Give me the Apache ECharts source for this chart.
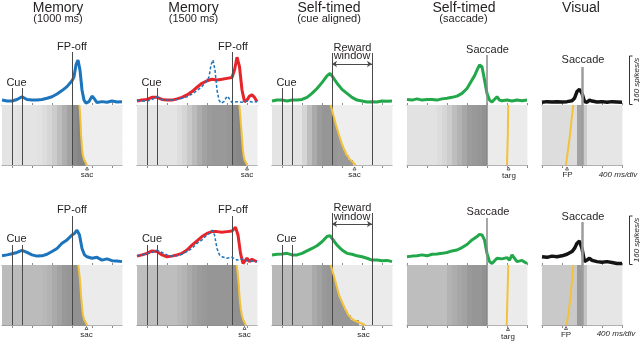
<!DOCTYPE html>
<html>
<head>
    <meta charset="utf-8"/>
    <title>Memory / self-timed / visual neurons</title>
    <script src="https://cdn.jsdelivr.net/npm/echarts@6.0.0/dist/echarts.min.js"></script>
    <style>
        html, body {margin: 0; padding: 0; background: #fff;}
        #chart {width: 640px; height: 342px;}
    </style>
</head>
<body>
<div id="chart"></div>
<script>
    // times in ms. memory + self-timed(cue) panels: 0 = cue onset; self-timed(saccade) + visual: 0 = saccade
    var cueTicks = [0, 400, 800, 1200, 1600, 2000];
    var selfSacTicks = [-1600, -1200, -800, -400, 0, 400, 800];
    var visualTicks = [-800, -400, 0, 400, 800];

    // ---- PSTHs (spikes/s) ----
    var mem1000TopT = [-200, -100, 0, 100, 200, 300, 400, 500, 600, 700, 800, 900, 1000, 1100, 1200, 1240, 1280, 1320, 1360, 1400, 1440, 1480, 1540, 1600, 1640, 1700, 1800, 1900, 2000, 2100, 2200];
    var mem1000TopRate = [16, 13, 13, 18, 27, 18, 16, 16, 18, 22, 27, 36, 47, 60, 79, 92, 131, 147, 114, 49, 16, 6, 11, 29, 22, 8, 11, 9, 13, 10, 11];
    var mem1000BotT = [-200, -100, 0, 100, 200, 300, 400, 500, 600, 700, 800, 900, 1000, 1100, 1200, 1250, 1300, 1320, 1350, 1400, 1450, 1500, 1600, 1700, 1800, 1900, 2000, 2100, 2200];
    var mem1000BotRate = [30, 33, 37, 41, 48, 41, 33, 29, 30, 35, 44, 54, 71, 82, 98, 103, 114, 117, 98, 54, 33, 27, 22, 25, 16, 20, 14, 13, 11];

    var mem1500TopT = [-200, -100, 0, 100, 200, 300, 400, 500, 600, 700, 800, 900, 1000, 1100, 1200, 1300, 1400, 1500, 1600, 1700, 1750, 1800, 1850, 1900, 1950, 2000, 2050, 2100, 2150, 2200];
    var mem1500TopRate = [13, 16, 18, 25, 25, 18, 16, 16, 20, 25, 33, 44, 58, 71, 79, 84, 82, 84, 87, 90, 114, 156, 125, 49, 11, 16, 29, 33, 25, 11];
    var mem1500BotT = [-200, -100, 0, 100, 200, 300, 400, 500, 600, 700, 800, 900, 1000, 1100, 1200, 1300, 1400, 1500, 1600, 1700, 1770, 1820, 1870, 1920, 2000, 2050, 2100, 2150, 2200];
    var mem1500BotRate = [29, 33, 38, 46, 44, 33, 27, 29, 33, 38, 49, 65, 79, 93, 103, 109, 109, 107, 109, 111, 123, 98, 38, 5, 22, 11, 19, 14, 11];

    var selfCueT = [-200, -100, 0, 100, 200, 300, 400, 500, 600, 700, 800, 900, 960, 1000, 1100, 1200, 1300, 1400, 1500, 1600, 1700, 1800, 1900, 2000, 2100, 2200];
    var selfCueTopRate = [13, 16, 16, 13, 16, 16, 18, 25, 38, 54, 73, 95, 103, 95, 71, 51, 38, 25, 16, 13, 10, 11, 10, 13, 12, 13];
    var selfCueBotRate = [33, 35, 36, 38, 33, 33, 38, 46, 54, 63, 76, 93, 96, 87, 65, 49, 38, 35, 30, 27, 22, 16, 16, 14, 15, 11];

    var selfSacTopT = [-1600, -1500, -1400, -1300, -1200, -1100, -1000, -900, -800, -700, -600, -500, -400, -300, -250, -200, -150, -100, -50, 0, 50, 100, 200, 250, 300, 400, 500, 600, 700, 800];
    var selfSacTopRate = [18, 16, 20, 16, 18, 18, 16, 20, 22, 25, 29, 38, 54, 82, 95, 114, 131, 125, 82, 38, 16, 10, 27, 16, 14, 16, 13, 16, 14, 16];
    var selfSacBotT = [-1600, -1500, -1400, -1300, -1200, -1100, -1000, -900, -800, -700, -600, -500, -400, -300, -200, -150, -100, -50, 0, 50, 100, 200, 300, 400, 450, 500, 550, 600, 700, 800];
    var selfSacBotRate = [27, 29, 30, 33, 30, 35, 36, 38, 41, 46, 49, 57, 67, 82, 93, 100, 98, 82, 38, 11, 5, 22, 20, 24, 16, 33, 22, 11, 15, 5];

    var visualT = [-800, -700, -600, -500, -400, -300, -200, -150, -100, -50, 0, 50, 100, 150, 200, 300, 400, 500, 600, 700, 800];
    var visualTopRate = [9, 11, 10, 11, 10, 11, 14, 22, 44, 51, 38, 11, 9, 16, 13, 10, 11, 9, 11, 10, 9];
    var visualBotRate = [27, 25, 29, 27, 30, 35, 44, 54, 71, 78, 54, 11, 16, 22, 15, 11, 9, 11, 8, 5, 5];

    // ---- yellow markers in the rasters (ms), top to bottom of the sorted trials ----
    var mem1000TopSac = [1346, 1356, 1362, 1368, 1374, 1378, 1382, 1390, 1396, 1404, 1416, 1444, 1500];
    var mem1000BotSac = [1326, 1338, 1349, 1360, 1367, 1374, 1380, 1389, 1398, 1406, 1420, 1445, 1506];
    var mem1500TopSac = [1846, 1856, 1864, 1872, 1880, 1888, 1894, 1902, 1910, 1918, 1930, 1950, 2006];
    var mem1500BotSac = [1794, 1806, 1816, 1826, 1836, 1842, 1848, 1856, 1866, 1880, 1896, 1924, 1980];
    var selfCueTopSac = [974, 1000, 1026, 1053, 1080, 1110, 1140, 1173, 1206, 1250, 1294, 1370, 1474];
    var selfCueBotSac = [974, 1003, 1032, 1060, 1087, 1113, 1140, 1183, 1226, 1276, 1326, 1426, 1660];
    var selfSacTopTarg = [426, 420, 416, 408, 400];
    var selfSacBotTarg = [426, 418, 410, 402, 394];
    var visualTopFP = [-174, -210, -240, -280, -320];
    var visualBotFP = [-174, -200, -226, -262, -306];

    // ---- raster spike density per 100 ms bin (0 = empty, 1 = solid) ----
    var mem1000TopDens = [.16, .16, .16, .17, .16, .16, .16, .17, .2, .24, .3, .38, .47, .55, .68, .72, .72, .72, .72, .72, .72, .72, .72, .72];
    var mem1500TopDens = [.16, .16, .16, .16, .16, .16, .16, .16, .2, .25, .32, .4, .48, .55, .58, .6, .6, .6, .62, .68, .7, .7, .7, .7];
    var selfCueTopDens = [.16, .16, .16, .16, .16, .16, .25, .38, .5, .58, .62, .62, .62, .6, .6, .6, .6, .6, .6, .6, .6, .6, .6, .6];
    var selfSacTopDens = [.17, .17, .17, .17, .17, .17, .2, .24, .3, .38, .45, .52, .58, .6, .62, .65, .12, .12, .12, .12, .12, .12, .12, .12];
    var visualTopDens = [.2, .2, .2, .2, .2, .2, .2, .55, .3, .15, .15, .15, .15, .15, .15, .15];
    var mem1000BotDens = [.4, .4, .4, .4, .4, .4, .4, .4, .42, .45, .5, .55, .6, .62, .65, .65, .65, .65, .65, .65, .65, .65, .65, .65];
    var mem1500BotDens = [.38, .38, .38, .38, .38, .38, .38, .38, .42, .45, .5, .55, .58, .6, .62, .62, .62, .62, .62, .65, .65, .65, .65, .65];
    var selfCueBotDens = [.42, .42, .42, .42, .42, .42, .42, .42, .5, .55, .6, .62, .62, .62, .62, .62, .62, .62, .62, .62, .62, .62, .62, .62];
    var selfSacBotDens = [.38, .38, .38, .38, .38, .38, .38, .38, .45, .48, .52, .55, .6, .62, .62, .65, .12, .12, .12, .12, .12, .12, .12, .12];
    var visualBotDens = [.32, .32, .32, .32, .32, .32, .32, .6, .35, .15, .15, .15, .15, .15, .15, .15];
    var postSacDens = [.1, .12];

    var NROWS = 12;
    var FONT = '"Liberation Sans", Arial, Helvetica, sans-serif';

    var rowsGeo = [
        {top: 28, base: 105, bottom: 165},
        {top: 188, base: 265, bottom: 325}
    ];
    var lefts = [2, 137, 272, 407, 542];
    var widths = [120, 120, 120, 120, 80];
    var mins = [-200, -200, -200, -1600, -800];
    var maxs = [2200, 2200, 2200, 800, 800];
    var ticks = [cueTicks, cueTicks, cueTicks, selfSacTicks, visualTicks];
    var colors = ['#1c75bc', '#e5252a', '#22a84a', '#22a84a', '#141414'];
    var lineW = [3, 3, 3, 3, 3.5];

    var rowData = [
        {
            t: [mem1000TopT, mem1500TopT, selfCueT, selfSacTopT, visualT],
            rate: [mem1000TopRate, mem1500TopRate, selfCueTopRate, selfSacTopRate, visualTopRate],
            dens: [mem1000TopDens, mem1500TopDens, selfCueTopDens, selfSacTopDens, visualTopDens],
            ends: [mem1000TopSac, mem1500TopSac, selfCueTopSac, null, null],
            mark: [mem1000TopSac, mem1500TopSac, selfCueTopSac, selfSacTopTarg, visualTopFP],
            dashT: mem1000TopT, dashRate: mem1000TopRate,
            arrowY: 64,
            events: [
                [{t: 0, top: 88}, {t: 200, top: 88}, {t: 1200, top: 52}],
                [{t: 0, top: 88}, {t: 200, top: 88}, {t: 1700, top: 52}],
                [{t: 0, top: 88}, {t: 200, top: 88}, {t: 1000, top: 53}, {t: 1800, top: 53}],
                [{t: 0, top: 55, c: '#8a8a8a', w: 1.5}],
                [{t: 0, top: 67, c: '#9c9c9c', w: 2.5}]
            ]
        },
        {
            t: [mem1000BotT, mem1500BotT, selfCueT, selfSacBotT, visualT],
            rate: [mem1000BotRate, mem1500BotRate, selfCueBotRate, selfSacBotRate, visualBotRate],
            dens: [mem1000BotDens, mem1500BotDens, selfCueBotDens, selfSacBotDens, visualBotDens],
            ends: [mem1000BotSac, mem1500BotSac, selfCueBotSac, null, null],
            mark: [mem1000BotSac, mem1500BotSac, selfCueBotSac, selfSacBotTarg, visualBotFP],
            dashT: mem1000BotT, dashRate: mem1000BotRate,
            arrowY: 224,
            events: [
                [{t: 0, top: 245}, {t: 200, top: 245}, {t: 1200, top: 216}],
                [{t: 0, top: 245}, {t: 200, top: 245}, {t: 1700, top: 216}],
                [{t: 0, top: 245}, {t: 200, top: 245}, {t: 1000, top: 213}, {t: 1800, top: 213}],
                [{t: 0, top: 218, c: '#8a8a8a', w: 1.5}],
                [{t: 0, top: 222, c: '#9c9c9c', w: 2.5}]
            ]
        }
    ];

    function zip(xs, ys) {
        return xs.map(function (x, i) { return [x, ys[i]]; });
    }

    // raster cells: dense part until the trial's saccade, sparse after it
    function cells(dens, post, ends, t0) {
        var out = [];
        for (var i = 0; i < NROWS; i++) {
            var end = ends ? (ends[i] + ends[i + 1]) / 2 : Infinity;
            for (var j = 0; j < dens.length; j++) {
                var a = t0 + j * 100, b = a + 100;
                if (b <= end) out.push([a, b, i, dens[j]]);
                else if (a >= end) out.push([a, b, i, post]);
                else {
                    out.push([a, end, i, dens[j]]);
                    out.push([end, b, i, post]);
                }
            }
        }
        return out;
    }

    function renderCell(params, api) {
        var p0 = api.coord([api.value(0), api.value(2)]);
        var p1 = api.coord([api.value(1), api.value(2) + 1]);
        var g = Math.round(255 - 170 * api.value(3));
        return {
            type: 'rect',
            shape: {x: p0[0], y: p0[1], width: p1[0] - p0[0] + 0.4, height: p1[1] - p0[1] + 0.4},
            style: {fill: 'rgb(' + g + ',' + g + ',' + g + ')'}
        };
    }

    function xAx(gi, p, psth) {
        return {
            gridIndex: gi, type: 'value', min: mins[p], max: maxs[p], position: 'bottom',
            axisLine: {show: true, onZero: false, lineStyle: {color: '#8c8c8c', width: 1}},
            axisTick: {show: true, inside: psth, length: psth ? 2 : 3, customValues: ticks[p], lineStyle: {color: '#8c8c8c'}},
            axisLabel: {show: false},
            splitLine: {show: false}
        };
    }

    var option = {animation: false, grid: [], xAxis: [], yAxis: [], series: [], graphic: {elements: []}};

    rowsGeo.forEach(function (g, r) {
        var d = rowData[r];
        var psthH = g.base - g.top;
        var yMax = 160 * psthH / 49;   // 160 spikes/s = 49 px
        for (var p = 0; p < 5; p++) {
            var gi = option.grid.length;
            option.grid.push({left: lefts[p], top: g.top, width: widths[p], height: psthH});
            option.grid.push({left: lefts[p], top: g.base, width: widths[p], height: g.bottom - g.base});
            option.xAxis.push(xAx(gi, p, true));
            option.xAxis.push(xAx(gi + 1, p, false));
            option.yAxis.push({gridIndex: gi, type: 'value', min: 0, max: yMax, show: false});
            option.yAxis.push({gridIndex: gi + 1, type: 'value', min: 0, max: NROWS, inverse: true, show: false});

            var evs = d.events[p];
            var psthLines = evs.map(function (e) {
                var top = (g.base - e.top) * 160 / 49;
                return [{coord: [e.t, 0], lineStyle: {color: e.c || '#4a4a4a', width: e.w || 1, type: 'solid'}}, {coord: [e.t, top]}];
            });
            if (p === 2) {
                var ay = (g.base - d.arrowY) * 160 / 49;
                psthLines.push([{coord: [1000, ay], symbol: 'arrow', symbolSize: 5, lineStyle: {color: '#4a4a4a', width: 1, type: 'solid'}},
                    {coord: [1800, ay], symbol: 'arrow', symbolSize: 5}]);
            }
            var rasterLines = evs.map(function (e) {
                return {xAxis: e.t, lineStyle: {color: e.c || '#4a4a4a', width: e.w || 1, type: 'solid'}};
            });

            // raster
            option.series.push({
                type: 'custom', xAxisIndex: gi + 1, yAxisIndex: gi + 1, silent: true, z: 1, progressive: 0,
                renderItem: renderCell, encode: {x: [0, 1], y: 2},
                data: cells(d.dens[p], postSacDens[r], d.ends[p], mins[p])
            });
            // yellow saccade / target / FP marks
            var m = d.mark[p];
            var step = NROWS / (m.length - 1);
            option.series.push({
                type: 'line', xAxisIndex: gi + 1, yAxisIndex: gi + 1, silent: true, z: 6,
                data: m.map(function (v, k) { return [v, k * step]; }),
                symbol: 'none', lineStyle: {color: '#f2c23c', width: 2},
                markLine: {silent: true, symbol: 'none', label: {show: false}, animation: false, data: rasterLines}
            });
            // PSTH
            option.series.push({
                type: 'line', xAxisIndex: gi, yAxisIndex: gi, silent: true, z: 4,
                data: zip(d.t[p], d.rate[p]),
                symbol: 'none', lineStyle: {color: colors[p], width: lineW[p]},
                markLine: {silent: true, symbol: 'none', label: {show: false}, animation: false, data: psthLines}
            });
            if (p === 1) {
                // memory 1000 ms curve overlaid (cue aligned)
                option.series.push({
                    type: 'line', xAxisIndex: gi, yAxisIndex: gi, silent: true, z: 5,
                    data: zip(d.dashT, d.dashRate),
                    symbol: 'none', lineStyle: {color: '#1c75bc', width: 1.5, type: [3, 2]}
                });
            }
        }
    });

    var labels = [
        ['Memory', 58, 8, 14], ['(1000 ms)', 58, 19, 11],
        ['Memory', 193.5, 8, 14], ['(1500 ms)', 193.5, 19, 11],
        ['Self-timed', 329, 8, 14], ['(cue aligned)', 329, 19, 11],
        ['Self-timed', 464, 8, 14], ['(saccade)', 463.5, 19, 11],
        ['Visual', 581, 8, 14],
        ['FP-off', 72, 46.5, 11], ['Cue', 16.5, 82.5, 11], ['FP-off', 233, 46.5, 11], ['Cue', 151.5, 82.5, 11],
        ['Cue', 286.5, 82.5, 11], ['Reward', 352.5, 47.5, 11], ['window', 352, 56, 11],
        ['Saccade', 487.5, 49.5, 11], ['Saccade', 583, 60, 11],
        ['FP-off', 72, 210, 11], ['Cue', 16.5, 238.5, 11], ['FP-off', 233, 210, 11], ['Cue', 152, 238.5, 11],
        ['Cue', 286.5, 238.5, 11], ['Reward', 352.5, 208, 11], ['window', 352, 216.5, 11],
        ['Saccade', 488, 212, 11], ['Saccade', 583, 217, 11],
        ['sac', 87, 175, 8], ['sac', 247, 175, 8], ['sac', 354.5, 175, 8], ['targ', 509, 175.5, 8],
        ['FP', 567.5, 175, 8], ['400 ms/div', 618, 174.5, 8, true],
        ['sac', 86.5, 335, 8], ['sac', 244.5, 335, 8], ['sac', 363.5, 335, 8], ['targ', 508, 336.5, 8],
        ['FP', 566, 335, 8], ['400 ms/div', 616, 333.5, 8, true],
        ['160 spikes/s', 636.5, 80, 8, true, 90], ['160 spikes/s', 636.5, 240, 8, true, 90]
    ];
    labels.forEach(function (l) {
        option.graphic.elements.push({
            type: 'text', x: l[1], y: l[2], rotation: l[5] ? l[5] * Math.PI / 180 : 0, silent: true,
            style: {
                text: l[0], x: 0, y: 0, fill: '#231f20',
                font: (l[4] ? 'italic ' : '') + l[3] + 'px ' + FONT,
                textAlign: 'center', textVerticalAlign: 'middle', align: 'center', verticalAlign: 'middle'
            }
        });
    });

    var carets = [[87, 168.5], [247, 168.5], [354.5, 168.5], [508.5, 168.5], [567, 168.5],
        [86.5, 328], [244.5, 328], [363.5, 328], [508, 329], [566, 328]];
    carets.forEach(function (c) {
        option.graphic.elements.push({
            type: 'polygon', silent: true,
            shape: {points: [[c[0] - 1.5, c[1] + 1.5], [c[0] + 1.5, c[1] + 1.5], [c[0], c[1] - 1.5]]},
            style: {fill: 'none', stroke: '#333', lineWidth: 0.7}
        });
    });

    // 160 spikes/s scale bars
    [[56, 104.5], [216, 264.5]].forEach(function (s) {
        option.graphic.elements.push({
            type: 'polyline', silent: true,
            shape: {points: [[632.5, s[0]], [629.5, s[0]], [629.5, s[1]], [632.5, s[1]]]},
            style: {stroke: '#333', lineWidth: 1, fill: 'none'}
        });
    });

    var chart = echarts.init(document.getElementById('chart'));
    chart.setOption(option);
</script>
</body>
</html>
